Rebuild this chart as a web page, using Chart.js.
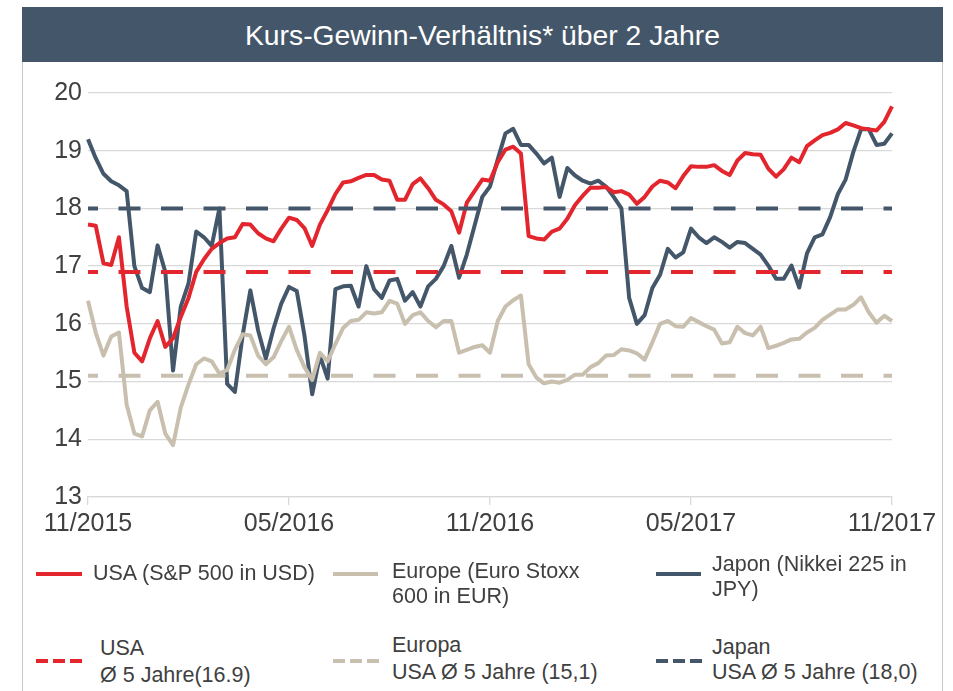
<!DOCTYPE html>
<html>
<head>
<meta charset="utf-8">
<script src="https://cdn.jsdelivr.net/npm/chart.js@4.4.0/dist/chart.umd.min.js"></script>
<style>
  body { margin:0; background:#fff; width:953px; height:691px; overflow:hidden;
         font-family:"Liberation Sans",Arial,sans-serif; color:#404040; }
  #rahmen { position:absolute; left:22px; top:7px; width:919px; height:700px; border:1.5px solid #c8c8c8; }
  #titel { position:absolute; left:22px; top:7px; width:921px; height:55px; background:#44576a; color:#fff;
           font-size:28.3px; line-height:56px; text-align:center; }
  #wrap { position:absolute; left:22px; top:62px; width:920px; height:500px; }
  .leg { position:absolute; font-size:21.5px; line-height:25px; white-space:nowrap; }
  .strich { position:absolute; height:4px; }
</style>
</head>
<body>
<div id="rahmen"></div>
<div id="titel">Kurs-Gewinn-Verhältnis* über 2 Jahre</div>
<div id="wrap"><canvas id="kgv" width="920" height="500"></canvas></div>

<div class="strich" style="left:36px;top:572px;width:46px;background:#e3262e"></div>
<div class="leg" style="left:93px;top:561px">USA (S&amp;P 500 in USD)</div>
<div class="strich" style="left:333px;top:572px;width:45px;background:#c8bfae"></div>
<div class="leg" style="left:392px;top:559px">Europe (Euro Stoxx<br>600 in EUR)</div>
<div class="strich" style="left:656px;top:572px;width:45px;background:#44576a"></div>
<div class="leg" style="left:712px;top:552px">Japon (Nikkei 225 in<br>JPY)</div>

<div class="strich" style="left:36px;top:659px;width:12px;background:#e3262e"></div>
<div class="strich" style="left:53px;top:659px;width:12px;background:#e3262e"></div>
<div class="strich" style="left:70px;top:659px;width:12px;background:#e3262e"></div>
<div class="leg" style="left:100px;top:635px;line-height:27px">USA<br>Ø 5 Jahre(16.9)</div>
<div class="strich" style="left:333px;top:659px;width:12px;background:#c8bfae"></div>
<div class="strich" style="left:350px;top:659px;width:12px;background:#c8bfae"></div>
<div class="strich" style="left:367px;top:659px;width:12px;background:#c8bfae"></div>
<div class="leg" style="left:392px;top:632px;line-height:27px">Europa<br>USA Ø 5 Jahre (15,1)</div>
<div class="strich" style="left:656px;top:659px;width:12px;background:#44576a"></div>
<div class="strich" style="left:673px;top:659px;width:12px;background:#44576a"></div>
<div class="strich" style="left:690px;top:659px;width:12px;background:#44576a"></div>
<div class="leg" style="left:712px;top:635px;line-height:25px">Japan<br>USA Ø 5 Jahre (18,0)</div>

<script>
// Wochenwerte 11/2015 - 11/2017 (105 Wochen)
var tickTexte = ['11/2015', '05/2016', '11/2016', '05/2017', '11/2017'];

var usa = [17.72, 17.7, 17.05, 17.02, 17.5, 16.3, 15.5, 15.35, 15.75, 16.05,
  15.6, 15.75, 16.12, 16.45, 16.9, 17.12, 17.3, 17.4, 17.48, 17.5,
  17.73, 17.72, 17.57, 17.48, 17.43, 17.65, 17.84, 17.8, 17.66, 17.35,
  17.72, 17.97, 18.25, 18.45, 18.47, 18.53, 18.58, 18.58, 18.5, 18.48,
  18.15, 18.15, 18.42, 18.52, 18.35, 18.15, 18.07, 17.95, 17.58, 18.1,
  18.3, 18.5, 18.48, 18.8, 19.02, 19.07, 18.95, 17.52, 17.48, 17.46,
  17.6, 17.65, 17.82, 18.06, 18.22, 18.36, 18.36, 18.37, 18.28, 18.3,
  18.24, 18.08, 18.2, 18.38, 18.48, 18.45, 18.35, 18.56, 18.73, 18.72,
  18.72, 18.75, 18.65, 18.58, 18.83, 18.96, 18.94, 18.93, 18.69, 18.55,
  18.68, 18.88, 18.8, 19.08, 19.18, 19.27, 19.31, 19.37, 19.48, 19.44,
  19.39, 19.37, 19.35, 19.5, 19.77];

var europa = [16.4, 15.85, 15.45, 15.78, 15.85, 14.6, 14.1, 14.05, 14.5, 14.65,
  14.1, 13.9, 14.55, 14.95, 15.3, 15.4, 15.35, 15.14, 15.2, 15.55,
  15.82, 15.8, 15.45, 15.3, 15.42, 15.7, 15.95, 15.55, 15.25, 15.03,
  15.5, 15.35, 15.65, 15.93, 16.05, 16.07, 16.2, 16.18, 16.2, 16.4,
  16.35, 16.0, 16.15, 16.2, 16.05, 15.94, 16.05, 16.05, 15.5, 15.55,
  15.6, 15.63, 15.5, 16.05, 16.3, 16.41, 16.49, 15.3, 15.07, 14.97,
  15.0, 14.98, 15.03, 15.12, 15.12, 15.25, 15.32, 15.45, 15.46, 15.56,
  15.54, 15.49, 15.38, 15.68, 16.0, 16.05, 15.96, 15.95, 16.1, 16.03,
  15.96, 15.9, 15.66, 15.68, 15.95, 15.84, 15.8, 15.95, 15.58, 15.62,
  15.67, 15.73, 15.74, 15.85, 15.93, 16.07, 16.16, 16.25, 16.25, 16.33,
  16.46, 16.2, 16.02, 16.14, 16.05];

var japan = [19.2, 18.87, 18.6, 18.47, 18.4, 18.3, 17.0, 16.62, 16.55, 17.36,
  16.9, 15.19, 16.3, 16.7, 17.6, 17.5, 17.35, 18.0, 14.96, 14.82,
  15.8, 16.58, 15.89, 15.4, 15.92, 16.35, 16.64, 16.57, 15.8, 14.78,
  15.45, 15.05, 16.6, 16.65, 16.66, 16.3, 17.0, 16.6, 16.45, 16.75,
  16.78, 16.4, 16.55, 16.3, 16.65, 16.78, 17.0, 17.35, 16.8, 17.2,
  17.7, 18.2, 18.38, 18.85, 19.3, 19.38, 19.1, 19.1, 18.95, 18.78,
  18.88, 18.2, 18.7, 18.57, 18.48, 18.43, 18.48, 18.38, 18.2, 18.0,
  16.45, 16.0, 16.15, 16.62, 16.85, 17.3, 17.15, 17.24, 17.65, 17.5,
  17.4, 17.5, 17.42, 17.32, 17.42, 17.4, 17.3, 17.2, 17.01, 16.78,
  16.78, 17.01, 16.63, 17.22, 17.5, 17.55, 17.85, 18.25, 18.5, 18.98,
  19.37, 19.37, 19.1, 19.12, 19.3];

// 5-Jahres-Durchschnitte
var schnittUSA = 16.9;
var schnittEuropa = 15.1;
var schnittJapan = 18.0;

var rot = '#e3262e', beige = '#c8bfae', blau = '#44576a';
var schrift = '"Liberation Sans", Arial, sans-serif';

var wochen = usa.map(function (v, i) { return i; });

function linie(label, daten, farbe, gestrichelt) {
    return {
        label: label,
        data: daten,
        borderColor: farbe,
        backgroundColor: farbe,
        borderWidth: 4,
        pointRadius: 0,
        tension: 0,
        fill: false,
        borderJoinStyle: 'round',
        borderDash: gestrichelt ? [22, 20.5] : [],
        borderDashOffset: gestrichelt ? 12 : 0,
        order: gestrichelt ? 0 : 1
    };
}

function konstant(wert) {
    return wochen.map(function () { return wert; });
}

Chart.defaults.font.family = schrift;
Chart.defaults.color = '#404040';

var ctx = document.getElementById('kgv').getContext('2d');
var chart = new Chart(ctx, {
    type: 'line',
    data: {
        labels: wochen,
        datasets: [
            linie('USA (S&P 500 in USD)', usa, rot, false),
            linie('Europe (Euro Stoxx 600 in EUR)', europa, beige, false),
            linie('Japon (Nikkei 225 in JPY)', japan, blau, false),
            linie('USA Ø 5 Jahre', konstant(schnittUSA), rot, true),
            linie('Europa Ø 5 Jahre', konstant(schnittEuropa), beige, true),
            linie('Japan Ø 5 Jahre', konstant(schnittJapan), blau, true)
        ]
    },
    options: {
        responsive: false,
        animation: false,
        layout: { padding: { left: 0, right: 50, top: 31, bottom: 0 } },
        plugins: {
            legend: { display: false },
            tooltip: { enabled: false }
        },
        scales: {
            x: {
                grid: { drawOnChartArea: false, drawTicks: true, tickLength: 8, color: '#d9d9d9', lineWidth: 1.3 },
                border: { display: true, color: '#d9d9d9', width: 1.3 },
                afterBuildTicks: function (s) {
                    s.ticks = s.ticks.filter(function (t) { return t.value % 26 === 0; });
                },
                ticks: {
                    autoSkip: false,
                    maxRotation: 0,
                    padding: 4,
                    color: '#404040',
                    font: { size: 25 },
                    callback: function (v) { return tickTexte[v / 26]; }
                },
                afterFit: function (s) { s.height = 65; }
            },
            y: {
                min: 13,
                max: 20,
                grid: { color: '#d9d9d9', lineWidth: 1.3, drawTicks: false },
                border: { display: false },
                ticks: { stepSize: 1, padding: 6, color: '#404040', font: { size: 25 } },
                afterFit: function (s) { s.width = 66; }
            }
        }
    }
});
</script>
</body>
</html>
